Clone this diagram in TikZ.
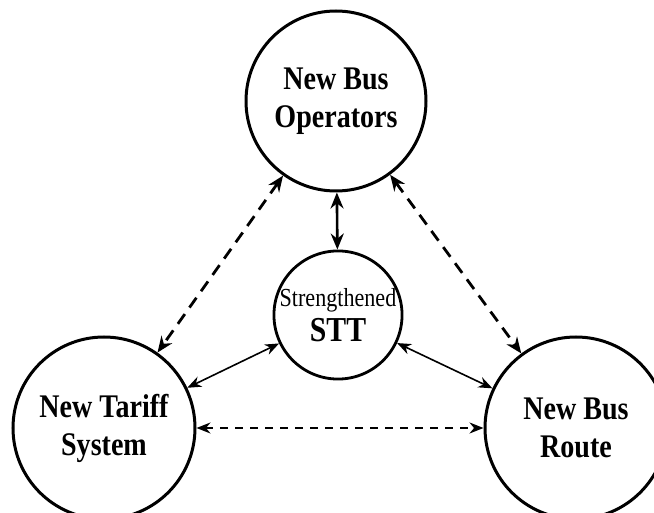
\documentclass[tikz,border=0pt]{standalone}
\usepackage{fontspec}
\setmainfont{Liberation Serif}
\newfontfamily\narrowfont[FakeStretch=0.85]{Liberation Serif}
\usetikzlibrary{arrows.meta}

\tikzset{
  bubble/.style={circle, draw=black, line width=3pt, inner sep=0pt, align=center,
    font=\narrowfont\bfseries\fontsize{33}{38}\selectfont},
  tipbig/.style={{Stealth[length=16pt,width=13pt]}-{Stealth[length=16pt,width=13pt]}},
  tipsmall/.style={{Stealth[length=14pt,width=11pt]}-{Stealth[length=14pt,width=11pt]}},
}

\begin{document}
\begin{tikzpicture}[x=1pt, y=-1pt]
\useasboundingbox[fill=white] (0,0) rectangle (654,513);

% the four circles
\node[bubble, minimum size=180pt] (ops) at (336,101) {New Bus\\Operators};
\node[bubble, minimum size=128pt, line width=2.8pt] (stt) at (338,315)
  {{\mdseries\fontsize{26}{27}\selectfont Strengthened}\\[-3pt]
   {\fontsize{35}{36}\selectfont STT}};
\node[bubble, minimum size=182pt] (tariff) at (104,428) {New Tariff\\System};
\node[bubble, minimum size=182pt] (route) at (576,428) {New Bus\\Route};

% STT to operators, solid
\draw[tipbig, line width=2.6pt] (stt) -- (ops);

% operators to tariff and route, long dashes
\draw[tipbig, line width=2.8pt, dash pattern=on 12pt off 8pt] (ops) -- (tariff);
\draw[tipbig, line width=2.8pt, dash pattern=on 12pt off 8pt] (ops) -- (route);

% STT to tariff and route, thin
\draw[tipsmall, line width=1.6pt] (stt) -- (tariff);
\draw[tipsmall, line width=1.6pt] (stt) -- (route);

% tariff to route, short dashes
\draw[tipsmall, line width=1.8pt, dash pattern=on 8pt off 7pt] (tariff) -- (route);
\end{tikzpicture}
\end{document}
